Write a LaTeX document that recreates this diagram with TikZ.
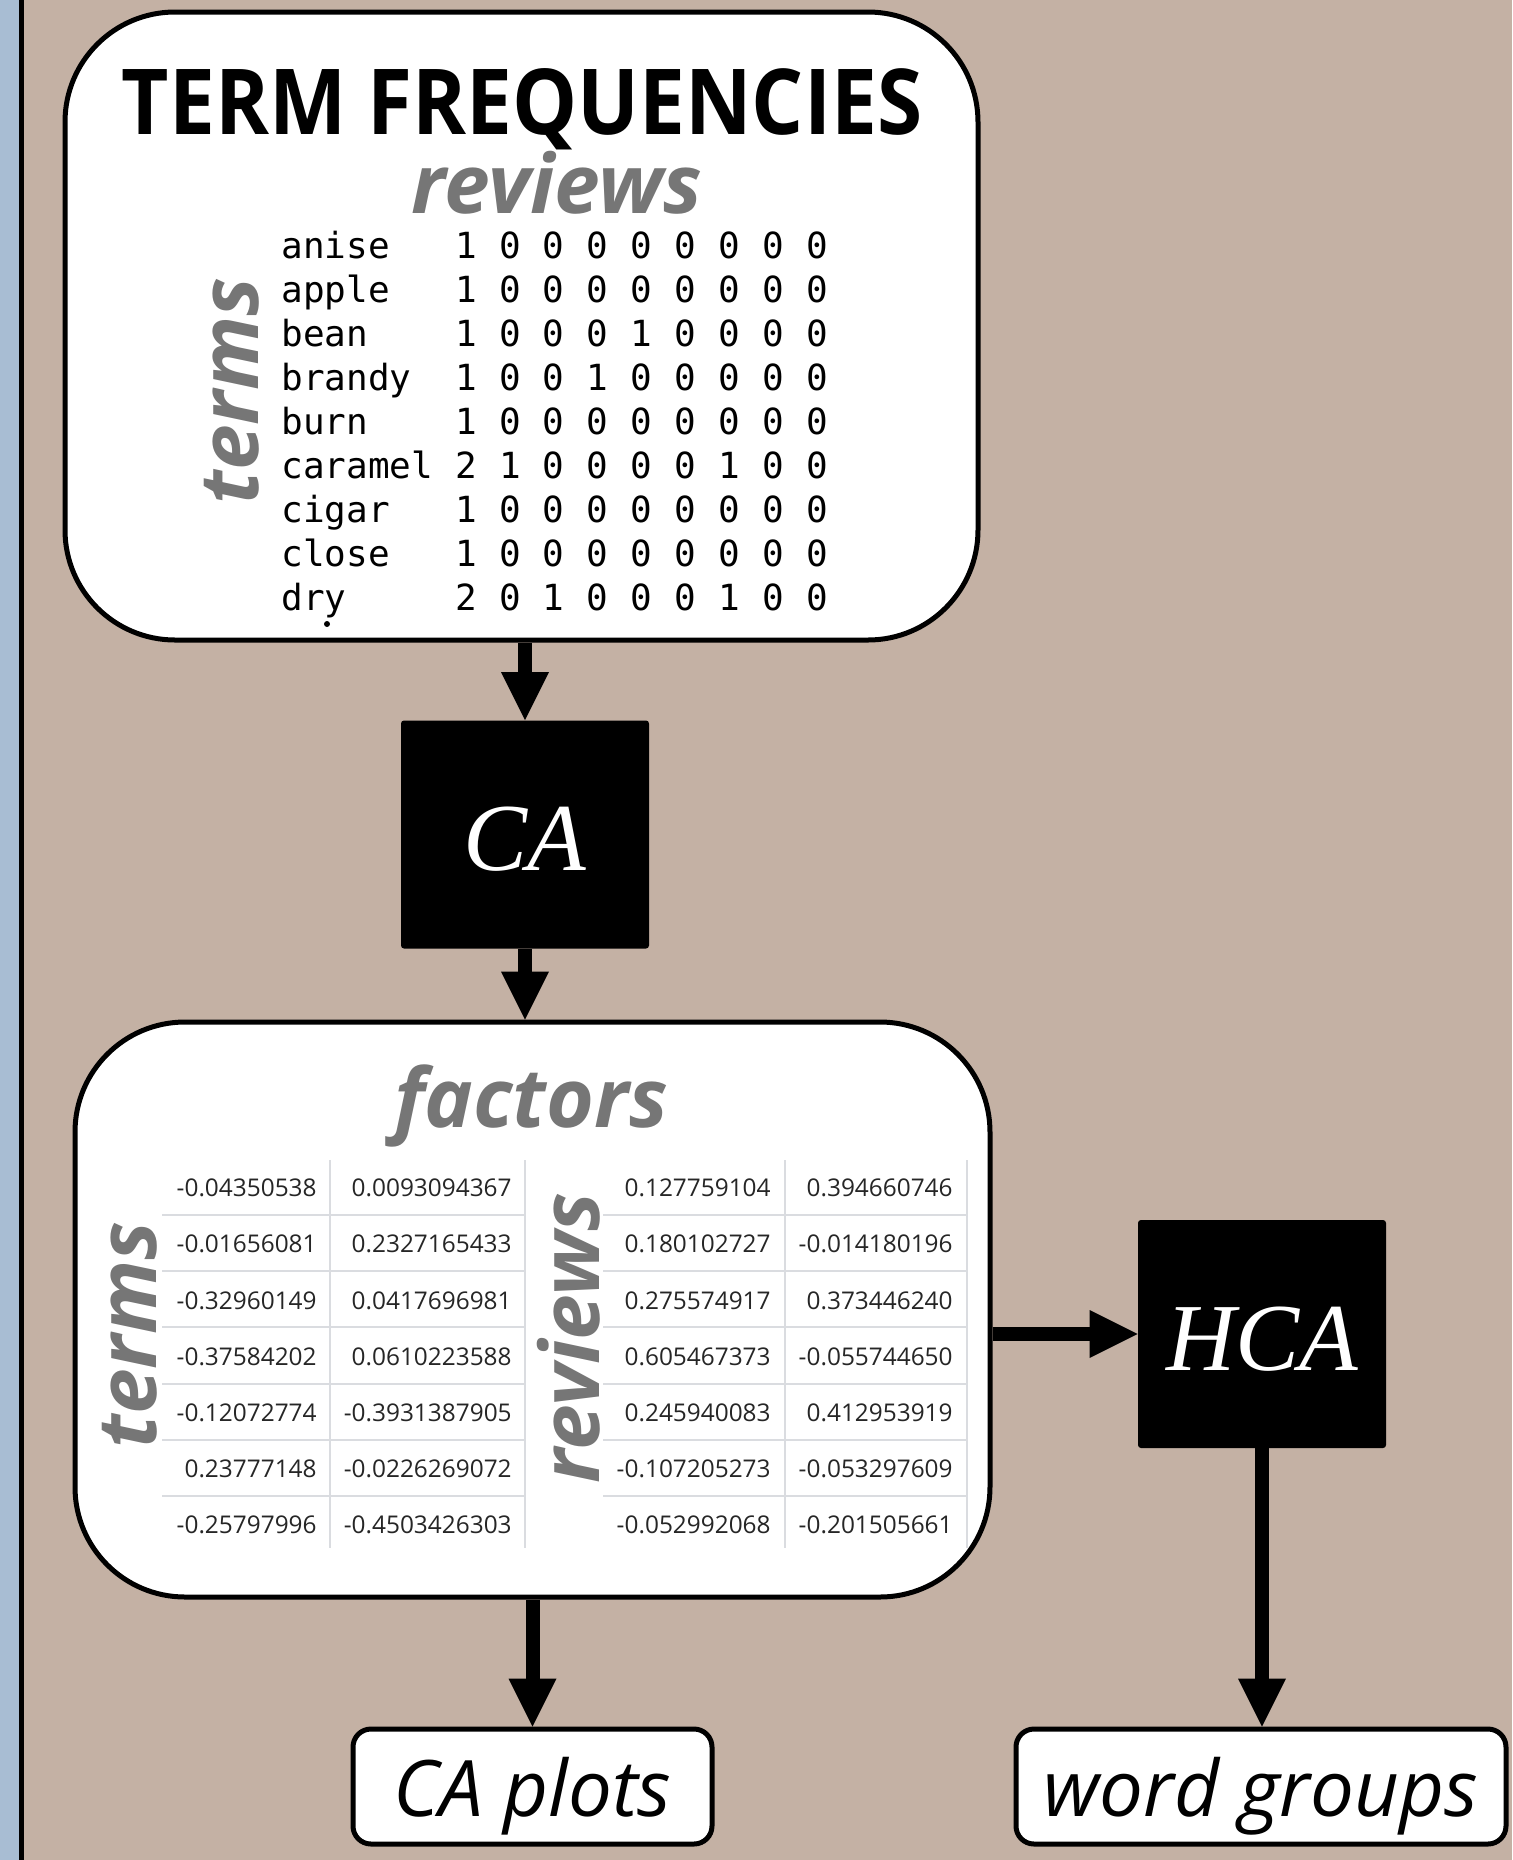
\documentclass[tikz,border=0pt]{standalone}
\usepackage{fontspec}
\setmainfont{Open Sans}
\setmonofont{DejaVu Sans Mono}
\newfontfamily\serifit{Liberation Serif}
\newfontfamily\titlefont[FakeStretch=0.9]{Open Sans}
\usepackage{tikz}
\usetikzlibrary{arrows.meta, fit}

\definecolor{paper}{HTML}{C4B1A4}
\definecolor{strip}{HTML}{A8BDD3}
\definecolor{labelgray}{HTML}{767676}
\definecolor{gridgray}{HTML}{DADCE0}

\begin{document}
\begin{tikzpicture}[x=0.5pt, y=-0.5pt,
	panel/.style={draw, line width=2.5pt, fill=white, rounded corners=55pt, inner sep=0pt},
	method/.style={fill=black, rounded corners=1.5pt, inner sep=0pt, text=white,
		minimum width=124pt, minimum height=114pt, text height=36pt, text depth=0pt,
		font=\fontsize{48}{48}\selectfont\serifit\itshape},
	result/.style={draw, line width=2.5pt, fill=white, rounded corners=9pt, inner sep=0pt,
		minimum height=57.5pt, text height=30pt, text depth=0pt,
		font=\fontsize{39}{39}\selectfont\itshape},
	heading/.style={text=labelgray, inner sep=0pt, font=\fontsize{41}{41}\selectfont\bfseries\itshape},
	tally/.style={inner sep=0pt, font=\fontsize{18}{18}\selectfont\ttfamily},
	score/.style={inner sep=0pt, anchor=east, text=black!85, font=\fontsize{12.2}{12.2}\selectfont},
	flow/.style={line width=7pt, -{Triangle[length=24pt, width=24pt, line width=0pt]}}
]
	\def \rowgap {44}
	\def \cellgap {56.2}

	% page, side strip
	\useasboundingbox (0,0) rectangle (1512,1860);
	\fill[paper] (0,0) rectangle (1512,1860);
	\fill[strip] (0,0) rectangle (19,1860);
	\fill[black] (19,0) rectangle (24,1860);

	% term frequency matrix
	\node[panel, fit={(65,12) (978,640)}] (freq) {};
	\node[inner sep=0pt, anchor=base, font=\fontsize{45.5}{45.5}\selectfont\titlefont\bfseries] (title)
		at (522,134) {TERM FREQUENCIES};
	\node[heading, anchor=base] (freqreviews) at (557,213) {reviews};
	\node[heading, rotate=90] (freqterms) at (232,391) {terms};

	\foreach \term/\counts [count=\r from 0] in {
		anise/{1,0,0,0,0,0,0,0,0}, apple/{1,0,0,0,0,0,0,0,0},
		bean/{1,0,0,0,1,0,0,0,0}, brandy/{1,0,0,1,0,0,0,0,0},
		burn/{1,0,0,0,0,0,0,0,0}, caramel/{2,1,0,0,0,0,1,0,0},
		cigar/{1,0,0,0,0,0,0,0,0}, close/{1,0,0,0,0,0,0,0,0},
		dry/{2,0,1,0,0,0,1,0,0}}
	{
		\node[tally, anchor=base west] (term\r) at (281, 258.6+\rowgap*\r) {\term};
		\foreach \n [count=\c from 0] in \counts
			\node[tally, anchor=base] (cell\r-\c) at (466+43.9*\c, 258.6+\rowgap*\r) {\n};
	}
	\fill (327,624) circle (1.5pt);

	\node[method] (ca) at (525,834.5) {CA};

	% factor scores
	\node[panel, fit={(75,1022) (990,1597)}] (factors) {};
	\node[heading, anchor=base] (factorslabel) at (531,1127) {factors};
	\node[heading, rotate=90] (factorsterms) at (130,1335) {terms};
	\node[heading, rotate=90] (factorsreviews) at (569,1338) {reviews};

	\foreach \k in {0,...,5} {
		\draw[gridgray, line width=1pt] (162, 1215+\cellgap*\k) -- (525, 1215+\cellgap*\k);
		\draw[gridgray, line width=1pt] (603, 1215+\cellgap*\k) -- (967, 1215+\cellgap*\k);
	}
	\foreach \x in {330, 525, 785, 967}
		\draw[gridgray, line width=1pt] (\x,1160) -- (\x,1548);

	\foreach \a/\b/\c/\d [count=\k from 0] in {
		-0.04350538/0.0093094367/0.127759104/0.394660746,
		-0.01656081/0.2327165433/0.180102727/-0.014180196,
		-0.32960149/0.0417696981/0.275574917/0.373446240,
		-0.37584202/0.0610223588/0.605467373/-0.055744650,
		-0.12072774/-0.3931387905/0.245940083/0.412953919,
		0.23777148/-0.0226269072/-0.107205273/-0.053297609,
		-0.25797996/-0.4503426303/-0.052992068/-0.201505661}
	{
		\node[score] (t\k-1) at (317, 1188+\cellgap*\k) {\a};
		\node[score] (t\k-2) at (512, 1188+\cellgap*\k) {\b};
		\node[score] (r\k-1) at (771, 1188+\cellgap*\k) {\c};
		\node[score] (r\k-2) at (953, 1188+\cellgap*\k) {\d};
	}

	\node[method] (hca) at (1262,1334) {HCA};

	% outputs
	\node[result, minimum width=179.5pt] (caplots) at (532.5,1786.5) {CA plots};
	\node[result, minimum width=245pt] (groups) at (1261,1786.5) {word groups};

	\draw[flow] (ca.north |- freq.south) -- (ca.north);
	\draw[flow] (ca.south) -- (ca.south |- factors.north);
	\draw[flow] (caplots.north |- factors.south) -- (caplots.north);
	\draw[flow] (factors.east |- hca.west) -- (hca.west);
	\draw[flow] (hca.south) -- (hca.south |- groups.north);
\end{tikzpicture}
\end{document}
